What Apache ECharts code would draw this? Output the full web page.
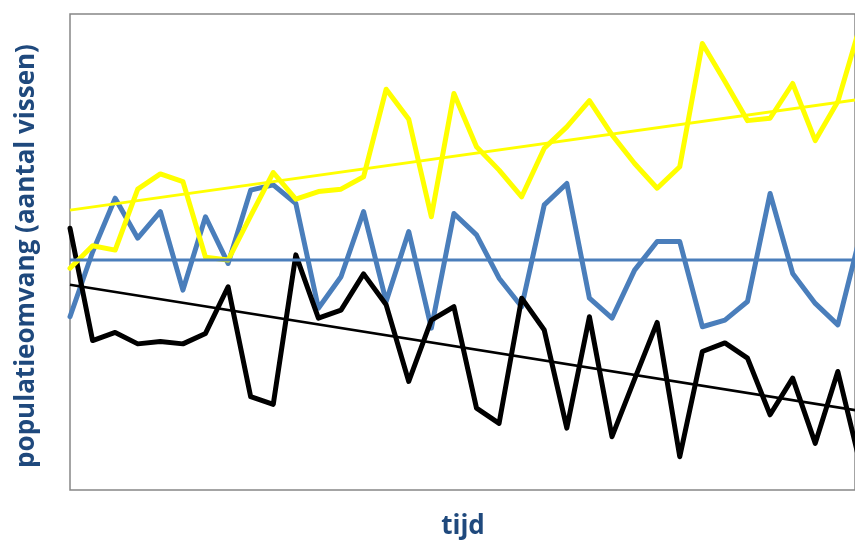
<!DOCTYPE html>
<html>
<head>
<meta charset="utf-8">
<script src="https://cdn.jsdelivr.net/npm/echarts@6/dist/echarts.min.js"></script>
<style>
  html, body { margin: 0; padding: 0; background: #fff; }
  #chart { width: 855px; height: 540px; }
</style>
</head>
<body>
<div id="chart"></div>
<script>
// tijdstappen (x-as, zonder labels)
const tijd = [0, 1, 2, 3, 4, 5, 6, 7, 8, 9, 10, 11,
  12, 13, 14, 15, 16, 17, 18, 19, 20, 21, 22, 23,
  24, 25, 26, 27, 28, 29, 30, 31, 32, 33, 34, 35]

// populatieomvang per soort
const geel = [46.6, 51.3, 50.4, 63.2, 66.4, 64.8, 48.9, 48.3, 57.6, 66.7, 61.1, 62.7,
  63.2, 65.8, 84.2, 77.9, 57.4, 83.3, 72.1, 67.2, 61.6, 71.8, 76.3, 81.8,
  74.6, 68.6, 63.4, 67.9, 93.8, 85.8, 77.6, 78.1, 85.4, 73.4, 81.6, 97.7]
const blauw = [36.4, 50.0, 61.3, 52.9, 58.5, 42.0, 57.4, 47.6, 63.0, 64.1, 60.2, 38.2,
  44.8, 58.5, 39.6, 54.3, 34.0, 58.1, 53.6, 44.5, 38.5, 59.9, 64.4, 40.3,
  36.1, 46.2, 52.2, 52.2, 34.3, 35.7, 39.6, 62.3, 45.5, 39.2, 34.7, 53.6]
const zwart = [55.0, 31.4, 33.1, 30.7, 31.2, 30.7, 32.9, 42.7, 19.6, 18.0, 49.4, 36.1,
  37.8, 45.4, 38.9, 22.8, 35.7, 38.5, 17.2, 14.0, 40.3, 33.6, 13.0, 36.4,
  11.2, 23.3, 35.2, 7.0, 29.1, 30.9, 27.7, 15.8, 23.5, 9.8, 24.9, 5.3]

// trendlijnen: waarde bij eerste en laatste tijdstap
const geelTrend = [58.8, 82.1]
const blauwTrend = [48.3, 48.3]
const zwartTrend = [43.1, 16.6]

// de grafiek is rechts afgesneden net voor de laatste tijdstap
const xMax = 34.76

const kleuren = { geel: '#FFFF00', blauw: '#4A7EBB', zwart: '#000000' }

function lijn(waarden, kleur, breedte) {
  return {
    type: 'line',
    data: tijd.map((t, i) => [t, waarden[i]]),
    symbol: 'none',
    silent: true,
    clip: true,
    lineStyle: { color: kleur, width: breedte, join: 'round', cap: 'round' }
  }
}

function trend(waarden, kleur, breedte) {
  return {
    type: 'line',
    data: [[tijd[0], waarden[0]], [tijd[tijd.length - 1], waarden[1]]],
    symbol: 'none',
    silent: true,
    clip: true,
    lineStyle: { color: kleur, width: breedte }
  }
}

const labelFont = 'bold 26px "Open Sans", Lato, sans-serif'

const chart = echarts.init(document.getElementById('chart'), null, { renderer: 'canvas' })
chart.setOption({
  animation: false,
  grid: {
    show: true,
    left: 70,
    right: 0,
    top: 14,
    bottom: 50,
    borderColor: '#868686',
    borderWidth: 1.5,
    backgroundColor: 'transparent'
  },
  xAxis: {
    type: 'value',
    min: 0,
    max: xMax,
    axisLine: { show: false },
    axisTick: { show: false },
    axisLabel: { show: false },
    splitLine: { show: false }
  },
  yAxis: {
    type: 'value',
    min: 0,
    max: 100,
    axisLine: { show: false },
    axisTick: { show: false },
    axisLabel: { show: false },
    splitLine: { show: false }
  },
  graphic: [
    {
      type: 'text',
      x: 27,
      y: 256,
      rotation: Math.PI / 2,
      style: {
        text: 'populatieomvang (aantal vissen)',
        fill: '#1F497D',
        font: labelFont,
        align: 'center',
        verticalAlign: 'middle'
      }
    },
    {
      type: 'text',
      x: 463,
      y: 527,
      style: {
        text: 'tijd',
        fill: '#1F497D',
        font: labelFont,
        align: 'center',
        verticalAlign: 'middle'
      }
    }
  ],
  series: [
    lijn(blauw, kleuren.blauw, 5),
    lijn(zwart, kleuren.zwart, 5),
    lijn(geel, kleuren.geel, 5),
    trend(blauwTrend, kleuren.blauw, 3),
    trend(zwartTrend, kleuren.zwart, 2.5),
    trend(geelTrend, kleuren.geel, 3)
  ]
})
</script>
</body>
</html>
